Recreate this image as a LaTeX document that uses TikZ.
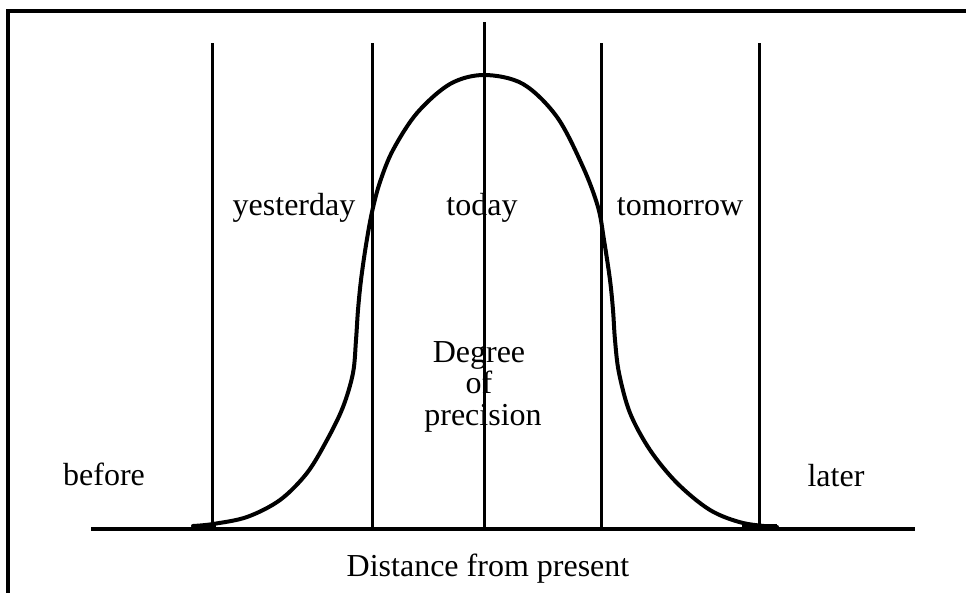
\documentclass[tikz,border=0pt]{standalone}
\usepackage{fontspec}
\setmainfont{Liberation Serif}
\begin{document}
\begin{tikzpicture}[x=1pt,y=-1pt,
  lbl/.style={anchor=base,inner sep=0pt,font=\fontsize{32}{32}\selectfont},
  divider/.style={line width=3pt},
  axisline/.style={line width=3.3pt},
  framerule/.style={line width=3.6pt},
  bell/.style={line width=4pt,line join=round,line cap=round}]
\useasboundingbox (0,0) rectangle (966,592);
% frame (top and left)
\coordinate (ftl) at (8,11);
\coordinate (ftr) at (970,11);
\coordinate (fbl) at (8,596);
\draw[framerule] (ftr) -- (ftl) -- (fbl);
% baseline
\coordinate (axL) at (91,529);
\coordinate (axR) at (915,529);
\draw[axisline] (axL) -- (axR);
% vertical dividers
\foreach \n/\x/\t in {v1/212/43, v2/372/43, v3/484/22, v4/601/43, v5/759/43}{
  \coordinate (\n top) at (\x,\t);
  \coordinate (\n bot) at (\x,529);
  \draw[divider] (\n top) -- (\n bot);
}
% bell curve
\draw[bell] plot[smooth,tension=0.55] coordinates {
 (193,526) (213,524) (247,517) (280,500) (307,473) (327,440) (343,407)
 (353,373) (356,340) (358,310) (361,280) (366,245) (372,212) (380,182)
 (393,150) (417,113) (450,84) (484,75) (523,84) (557,117) (583,167)
 (598,207) (604,240) (610,280) (613,310) (615,340) (619,373) (630,413)
 (650,450) (677,483) (710,510) (743,523) (777,527)};
\draw[line width=4.5pt] (193,526.5) -- (216,526.5);
\draw[line width=4.5pt] (742,526.5) -- (777,526.5);
% labels
\node[lbl] (yest) at (294,215) {yesterday};
\node[lbl] (tod) at (482,215) {today};
\node[lbl] (tom) at (680,215) {tomorrow};
\node[lbl] (deg1) at (479,362) {Degree};
\node[lbl] (deg2) at (479,393) {of};
\node[lbl] (deg3) at (483,425) {precision};
\node[lbl] (bef) at (104,485) {before};
\node[lbl] (lat) at (836,486) {later};
\node[lbl] (dist) at (488,576) {Distance from present};
\end{tikzpicture}
\end{document}
